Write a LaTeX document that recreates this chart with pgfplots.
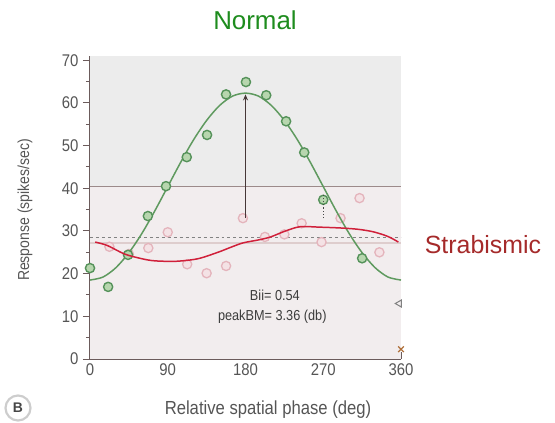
\documentclass[border=0pt]{standalone}
\usepackage{pgfplots}
\pgfplotsset{compat=1.18}
\usepackage{fontspec}
\setmainfont{Liberation Sans}
\newfontfamily\narrowfont{Liberation Sans}[FakeStretch=0.88]
\usetikzlibrary{arrows.meta}
\definecolor{axcol}{HTML}{6B5B5B}
\definecolor{tickcol}{HTML}{555555}
\definecolor{gline}{HTML}{5F9A5F}
\definecolor{gedge}{HTML}{55925A}
\definecolor{gfill}{HTML}{B7D6AE}
\definecolor{pedge}{HTML}{E4B4BC}
\definecolor{pfill}{HTML}{F4E2E5}
\definecolor{redc}{HTML}{D0203A}
\definecolor{titleg}{HTML}{1E8C1E}
\definecolor{titler}{HTML}{A52A2A}
\begin{document}
\begin{tikzpicture}
\useasboundingbox (-90bp,-64bp) rectangle (465bp,359bp);
\begin{axis}[
  at={(0,0)}, anchor=south west,
  scale only axis, width=311bp, height=303bp,
  xmin=0, xmax=360, ymin=0, ymax=71,
  axis x line*=bottom, axis y line*=left,
  axis line style={axcol, line width=1.1pt, -},
  xtick={0,90,180,270,360},
  ytick={0,10,...,70},
  minor ytick={5,15,...,65},
  x tick style={axcol, line width=1pt},
  y tick style={axcol, line width=1pt},
  xtick align=inside, ytick align=outside,
  major tick length=7bp, minor tick length=4bp,
  tick label style={font=\narrowfont\fontsize{17}{17}\selectfont, text=tickcol},
  /pgf/number format/assume math mode=true,
  xticklabel style={yshift=-1bp},
  yticklabel style={xshift=-1bp},
  clip mode=individual,
  axis background/.style={fill=white},
]
\fill[fill={rgb,255:red,236;green,236;blue,236}] (axis cs:0,40.5) rectangle (axis cs:360,71);
\fill[fill={rgb,255:red,242;green,237;blue,238}] (axis cs:0,0) rectangle (axis cs:360,40.5);
% reference lines
\addplot[color={rgb,255:red,156;green,138;blue,138}, line width=1.1pt, forget plot] coordinates {(0,40.5) (360,40.5)};
\addplot[color={rgb,255:red,222;green,205;blue,205}, line width=2pt, forget plot] coordinates {(0,27.2) (360,27.2)};
\addplot[color={rgb,255:red,130;green,130;blue,130}, dashed, line width=0.9pt, forget plot] coordinates {(0,28.4) (360,28.4)};
% strabismic points
\addplot[only marks, mark=*, mark size=4.6bp, mark options={draw=pedge, fill=pfill, line width=1.3pt}] coordinates {
(22.5,26.3) (45,24.6) (67.5,26) (90,29.7) (112.5,22.2) (135,20.1) (157.5,21.8) (177,33) (202.5,28.6) (225,29.2) (245,31.8) (268,27.4) (290,33) (312,37.7) (335,25)
};
% normal fit
\addplot[gline, line width=1.5pt, smooth] coordinates {
(0,18.5) (15,19.2) (30,21.4) (45,24.9) (60,29.4) (75,34.7) (90,40.4) (105,46.1) (120,51.4) (135,55.9) (150,59.4) (165,61.6) (180,62.3) (195,61.6) (210,59.4) (225,55.9) (240,51.4) (255,46.1) (270,40.4) (285,34.7) (300,29.4) (315,24.9) (330,21.4) (345,19.2) (360,18.5)
};
% normal points
\addplot[only marks, mark=*, mark size=4.6bp, mark options={draw=gedge, fill=gfill, line width=1.4pt}] coordinates {
(0,21.3) (21,16.9) (44,24.4) (67,33.5) (88,40.5) (112,47.3) (135.5,52.5) (157.5,62) (180.5,64.9) (204,61.8) (227,55.7) (248,48.4) (270,37.3) (315,23.6)
};
% strabismic fit
\addplot[redc, line width=1.5pt, smooth] coordinates {
(6,27.4) (20,26.6) (40,24.6) (60,23.5) (75,23) (100,22.9) (125,23.5) (148,25) (162,26.1) (177,27.2) (195,27.9) (209,28.6) (225,29.9) (243,31) (265,30.9) (290,30.7) (310,30.4) (328,29.8) (345,28.7) (357,27.4)
};
% arrow
\draw[-{Stealth[length=6bp,width=5bp]}, color={rgb,255:red,70;green,55;blue,55}, line width=1.4pt] (axis cs:180,33) -- (axis cs:180,62);
\draw[dotted, color={rgb,255:red,70;green,70;blue,70}, line width=1.2pt] (axis cs:270,33) -- (axis cs:270,38.5);
% side markers
\addplot[only marks, mark=triangle, mark size=4bp, mark options={rotate=90, draw=gray, line width=1pt}] coordinates {(358,13)};
\addplot[only marks, mark=x, mark size=4bp, mark options={draw={rgb,255:red,176;green,112;blue,58}, line width=1.3pt}] coordinates {(360,2.3)};
\addplot[only marks, mark=triangle*, mark size=3bp, mark options={rotate=90, fill={rgb,255:red,230;green,215;blue,140}, draw={rgb,255:red,230;green,215;blue,140}}] coordinates {(361,28.5)};
% annotation text
\node[font=\narrowfont\fontsize{14.5}{14.5}\selectfont, text={rgb,255:red,60;green,60;blue,60}] at (axis cs:214,14.9) {Bii= 0.54};
\node[font=\narrowfont\fontsize{14.5}{14.5}\selectfont, text={rgb,255:red,60;green,60;blue,60}] at (axis cs:211,10) {peakBM= 3.36 (db)};
\end{axis}
% titles and labels
\node[font=\fontsize{26}{26}\selectfont, text=titleg] at (165bp,339bp) {Normal};
\node[font=\fontsize{25}{25}\selectfont, text=titler] at (393bp,114bp) {Strabismic};
\node[font=\narrowfont\fontsize{16}{16}\selectfont, text=tickcol, rotate=90] at (-65bp,149bp) {Response (spikes/sec)};
\node[font=\narrowfont\fontsize{19}{19}\selectfont, text=tickcol] at (178bp,-51bp) {Relative spatial phase (deg)};
\node[draw={rgb,255:red,205;green,205;blue,205}, line width=2.2pt, circle, minimum size=25bp, inner sep=0pt, font=\fontsize{14}{14}\selectfont\bfseries, text={rgb,255:red,70;green,70;blue,70}] at (-72bp,-49bp) {B};
\end{tikzpicture}
\end{document}
